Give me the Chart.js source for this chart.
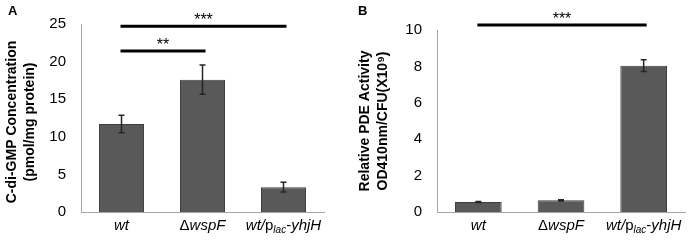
<!DOCTYPE html>
<html>
<head>
<meta charset="utf-8">
<script src="https://cdn.jsdelivr.net/npm/chart.js@4"></script>
<style>
  body { margin: 0; background: #fff; }
  #wrap { position: relative; width: 695px; height: 241px; }
  .panel { position: absolute; top: 0; }
</style>
</head>
<body>
<div id="wrap">
  <div class="panel" style="left:0;width:350px;height:241px"><canvas id="chartA" width="350" height="241"></canvas></div>
  <div class="panel" style="left:350px;width:345px;height:241px"><canvas id="chartB" width="345" height="241"></canvas></div>
</div>
<script>
// strains on the x axis
const categories = ['wt', 'ΔwspF', 'wt/plac-yhjH'];

// panel A: c-di-GMP (pmol/mg protein)
const cdgmpValues = [11.7, 17.6, 3.3];
const cdgmpErrors = [1.15, 1.95, 0.65];
const cdgmpTicks = [0, 5, 10, 15, 20, 25];

// panel B: relative PDE activity
const pdeValues = [0.55, 0.64, 8.04];
const pdeErrors = [0.03, 0.03, 0.32];
const pdeTicks = [0, 2, 4, 6, 8, 10];

// significance brackets: [from index, to index, height, stars]
const cdgmpSig = [[0, 2, 24.7, '***'], [0, 1, 21.4, '**']];
const pdeSig = [[0, 2, 10.27, '***']];

const FONT = '"Liberation Sans", Arial, sans-serif';

// how each x label is split into styled pieces
function labelPieces(name) {
    if (name === 'wt') return [['wt', 'italic']];
    if (name === 'ΔwspF') return [['Δ', 'normal'], ['wspF', 'italic']];
    return [['wt/', 'italic'], ['p', 'normal'], ['lac', 'sub'], ['-', 'normal'], ['yhjH', 'italic']];
}

const extrasPlugin = {
    id: 'extras',
    afterDatasetsDraw(chart, args, opts) {
        const ctx = chart.ctx;
        const x = chart.scales.x, y = chart.scales.y;
        const vals = chart.data.datasets[0].data;

        // error bars
        ctx.save();
        ctx.strokeStyle = '#262626';
        ctx.lineWidth = 1.5;
        opts.errors.forEach(function (e, i) {
            const cx = x.getPixelForValue(i);
            const top = y.getPixelForValue(vals[i] + e);
            const bot = y.getPixelForValue(vals[i] - e);
            ctx.beginPath();
            ctx.moveTo(cx, top); ctx.lineTo(cx, bot);
            ctx.moveTo(cx - 3, top); ctx.lineTo(cx + 3, top);
            ctx.moveTo(cx - 3, bot); ctx.lineTo(cx + 3, bot);
            ctx.stroke();
        });

        // significance lines and stars
        ctx.strokeStyle = '#000';
        ctx.fillStyle = '#000';
        ctx.lineWidth = 3;
        ctx.font = '16px ' + FONT;
        ctx.textAlign = 'center';
        ctx.textBaseline = 'alphabetic';
        opts.sig.forEach(function (s) {
            const x1 = x.getPixelForValue(s[0]) - 1;
            const x2 = x.getPixelForValue(s[1]) + 3;
            const yy = y.getPixelForValue(s[2]);
            ctx.beginPath();
            ctx.moveTo(x1, yy); ctx.lineTo(x2, yy);
            ctx.stroke();
            ctx.fillText(s[3], (x1 + x2) / 2, yy - 1);
        });

        // x labels with mixed styles
        ctx.textAlign = 'left';
        chart.data.labels.forEach(function (name, i) {
            const pieces = labelPieces(name);
            const fontOf = function (st) {
                if (st === 'italic') return 'italic 15px ' + FONT;
                if (st === 'sub') return 'italic 10px ' + FONT;
                return '15px ' + FONT;
            };
            let w = 0;
            pieces.forEach(function (p) { ctx.font = fontOf(p[1]); w += ctx.measureText(p[0]).width; });
            let px = x.getPixelForValue(i) - w / 2;
            const base = chart.chartArea.bottom + 18;
            pieces.forEach(function (p) {
                ctx.font = fontOf(p[1]);
                ctx.fillText(p[0], px, p[1] === 'sub' ? base + 3 : base);
                px += ctx.measureText(p[0]).width;
            });
        });

        // y title (two lines, rotated)
        ctx.font = 'bold 14px ' + FONT;
        ctx.textAlign = 'center';
        ctx.textBaseline = 'middle';
        const midY = (chart.chartArea.top + chart.chartArea.bottom) / 2 + opts.titleShift;
        opts.title.forEach(function (t, k) {
            ctx.save();
            ctx.translate(opts.titleX[k], midY);
            ctx.rotate(-Math.PI / 2);
            ctx.fillText(t, 0, 0);
            ctx.restore();
        });

        // panel letter
        ctx.font = 'bold 13px ' + FONT;
        ctx.textAlign = 'left';
        ctx.textBaseline = 'top';
        ctx.fillText(opts.letter, opts.letterX, 5);
        ctx.restore();
    }
};

function makeChart(id, values, errors, ticks, sig, opts) {
    return new Chart(document.getElementById(id), {
        type: 'bar',
        data: {
            labels: categories,
            datasets: [{
                data: values,
                backgroundColor: '#595959',
                borderColor: '#3f3f3f',
                borderWidth: 1,
                barPercentage: opts.barPct,
                categoryPercentage: 1
            }]
        },
        options: {
            responsive: false,
            animation: false,
            events: [],
            layout: { padding: opts.padding },
            plugins: {
                legend: { display: false },
                tooltip: { enabled: false },
                extras: {
                    errors: errors, sig: sig, title: opts.title, titleX: opts.titleX,
                    titleShift: opts.titleShift, letter: opts.letter, letterX: opts.letterX
                }
            },
            scales: {
                x: {
                    grid: { display: false, drawTicks: false },
                    border: { color: '#a6a6a6', width: 1 },
                    ticks: { display: false },
                    afterFit: function (s) { s.height = 29; }
                },
                y: {
                    min: 0,
                    max: ticks[ticks.length - 1],
                    afterBuildTicks: function (s) { s.ticks = ticks.map(function (v) { return { value: v }; }); },
                    grid: { display: false, drawTicks: false },
                    border: { color: '#a6a6a6', width: 1 },
                    ticks: { color: '#000', padding: 15, font: { family: FONT, size: 15 } },
                    afterFit: function (s) { s.width = 50; }
                }
            }
        },
        plugins: [extrasPlugin]
    });
}

makeChart('chartA', cdgmpValues, cdgmpErrors, cdgmpTicks, cdgmpSig, {
    padding: { left: 31, right: 26, top: 21, bottom: 0 },
    barPct: 0.556,
    title: ['C-di-GMP Concentration', '(pmol/mg protein)'],
    titleX: [12, 30], titleShift: 4,
    letter: 'A', letterX: 8
});

makeChart('chartB', pdeValues, pdeErrors, pdeTicks, pdeSig, {
    padding: { left: 37, right: 10, top: 30, bottom: 0 },
    barPct: 0.565,
    title: ['Relative PDE Activity', 'OD410nm/CFU(X10⁹)'],
    titleX: [15, 33], titleShift: 0,
    letter: 'B', letterX: 8
});
</script>
</body>
</html>
